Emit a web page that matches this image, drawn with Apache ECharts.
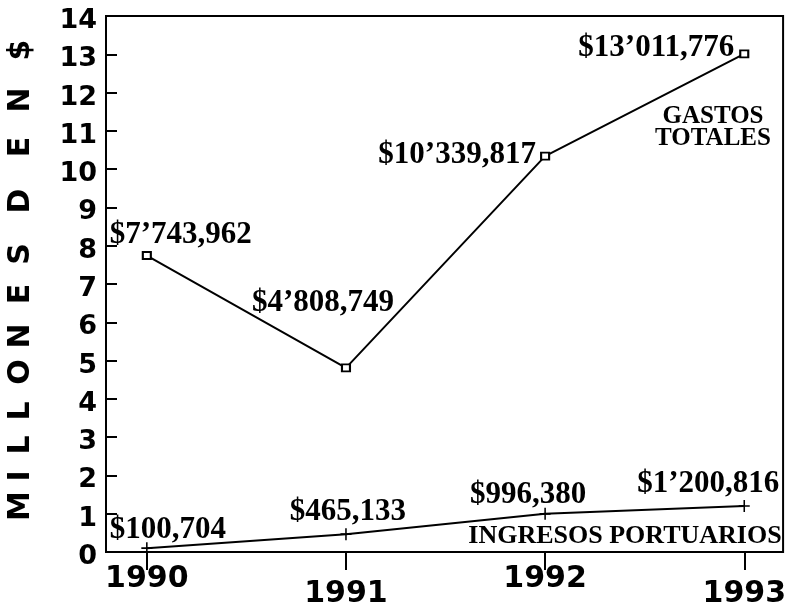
<!DOCTYPE html>
<html>
<head>
<meta charset="utf-8">
<script src="https://cdn.jsdelivr.net/npm/echarts@6/dist/echarts.min.js"></script>
<style>
  html, body { margin: 0; padding: 0; background: #fff; }
  #chart { width: 789px; height: 609px; }
</style>
</head>
<body>
<div id="chart"></div>
<script>
// datos (pesos)
const years = [1990, 1991, 1992, 1993]
const gastosTotales = [7743962, 4808749, 10339817, 13011776]
const ingresosPortuarios = [100704, 465133, 996380, 1200816]

// desplazamiento de las etiquetas respecto al punto (px)
const gastosLabelOffset = [[34, -21], [-23, -65], [-88, -1], [-88, -6]]
const ingresosLabelOffset = [[21, -18], [2, -22], [-17, -19], [-36, -22]]

// letras del titulo del eje Y y su centro vertical
const yNameChars = ['M', 'I', 'L', 'L', 'O', 'N', 'E', 'S', 'D', 'E', 'N', '$']
const yNameCenters = [506, 476, 445, 411, 372, 336, 294, 254, 201, 147, 100, 50]

const pad3 = n => String(n).padStart(3, '0')
function fmtPesos (v) {
  const m = Math.floor(v / 1e6)
  const rest = v % 1e6
  const th = Math.floor(rest / 1000)
  const u = rest % 1000
  return m > 0 ? '$' + m + '\u2019' + pad3(th) + ',' + pad3(u) : '$' + th + ',' + pad3(u)
}

const serif = 'Liberation Serif'
const sans = 'DejaVu Sans'

const chart = echarts.init(document.getElementById('chart'))
chart.setOption({
  animation: false,
  backgroundColor: '#fff',
  grid: {
    left: 106,
    right: 4,
    top: 16,
    bottom: 57,
    show: true,
    borderColor: '#000',
    borderWidth: 2
  },
  xAxis: {
    type: 'value',
    min: 1989.795,
    max: 1993.195,
    splitLine: { show: false },
    axisLine: { lineStyle: { color: '#000', width: 2 } },
    axisTick: {
      customValues: years,
      length: 18,
      lineStyle: { color: '#000', width: 2 }
    },
    axisLabel: {
      customValues: years,
      margin: 12,
      formatter: v => ((v - 1990) % 2 ? '{b|' + v + '}' : '{a|' + v + '}'),
      rich: {
        a: { fontFamily: sans, fontWeight: 'bold', fontSize: 30, color: '#000' },
        b: { fontFamily: sans, fontWeight: 'bold', fontSize: 30, color: '#000', padding: [15, 0, 0, 0] }
      }
    }
  },
  yAxis: {
    type: 'value',
    min: 0,
    max: 14,
    interval: 1,
    splitLine: { show: false },
    axisLine: { show: true, lineStyle: { color: '#000', width: 2 } },
    axisTick: { show: true, inside: true, length: 11, lineStyle: { color: '#000', width: 2 } },
    axisLabel: {
      margin: 9,
      formatter: v => '{v|' + v + '}',
      rich: {
        v: { fontFamily: sans, fontWeight: 'bold', fontSize: 27, color: '#000', padding: [10, 0, 0, 0] }
      }
    }
  },
  series: [
    {
      name: 'GASTOS TOTALES',
      type: 'line',
      data: years.map((y, i) => ({
        value: [y, gastosTotales[i] / 1e6],
        label: { offset: gastosLabelOffset[i] }
      })),
      symbol: 'emptyRect',
      symbolSize: [8, 7],
      itemStyle: { color: '#000', borderWidth: 1.5 },
      lineStyle: { color: '#000', width: 2 },
      label: {
        show: true,
        position: 'inside',
        formatter: p => fmtPesos(gastosTotales[p.dataIndex]),
        fontFamily: serif,
        fontWeight: 'bold',
        fontSize: 31,
        color: '#000'
      }
    },
    {
      name: 'INGRESOS PORTUARIOS',
      type: 'line',
      data: years.map((y, i) => ({
        value: [y, ingresosPortuarios[i] / 1e6],
        label: { offset: ingresosLabelOffset[i] }
      })),
      symbol: 'path://M0,4.3H10V5.7H0ZM4.3,0H5.7V10H4.3Z',
      symbolSize: [11, 12],
      itemStyle: { color: '#000' },
      lineStyle: { color: '#000', width: 2 },
      label: {
        show: true,
        position: 'inside',
        formatter: p => fmtPesos(ingresosPortuarios[p.dataIndex]),
        fontFamily: serif,
        fontWeight: 'bold',
        fontSize: 31,
        color: '#000'
      }
    }
  ],
  graphic: yNameChars.map((c, i) => ({
    type: 'text',
    x: 21,
    y: yNameCenters[i],
    rotation: Math.PI / 2,
    style: {
      text: c,
      font: 'bold 30px "DejaVu Sans"',
      fill: '#000',
      align: 'center',
      verticalAlign: 'middle'
    }
  })).concat([
    {
      type: 'text',
      x: 713,
      y: 128,
      style: {
        text: 'GASTOS\nTOTALES',
        font: 'bold 25px "Liberation Serif"',
        lineHeight: 22,
        fill: '#000',
        align: 'center',
        verticalAlign: 'middle'
      }
    },
    {
      type: 'text',
      x: 625,
      y: 536,
      style: {
        text: 'INGRESOS PORTUARIOS',
        font: 'bold 26px "Liberation Serif"',
        fill: '#000',
        align: 'center',
        verticalAlign: 'middle'
      }
    }
  ])
})
</script>
</body>
</html>
